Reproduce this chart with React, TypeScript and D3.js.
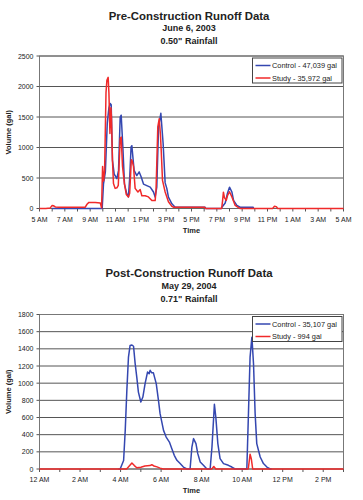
import React from "react";
import * as d3 from "d3";

// ---------- DATA ----------
// Pre-construction (hours after 5 AM, June 6 2003)
const preTickLabels = ["5 AM", "7 AM", "9 AM", "11 AM", "1 PM", "3 PM", "5 PM", "7 PM", "9 PM", "11 PM", "1 AM", "3 AM", "5 AM"];
const preYTicks = [0, 500, 1000, 1500, 2000, 2500];
const preControl: [number, number][] = [
  [1.0, 0], [4.95, 0], [5.05, 400], [5.2, 600], [5.35, 1400], [5.48, 1650], [5.58, 1720], [5.66, 1700],
  [5.76, 790], [5.9, 560], [5.97, 540], [6.11, 490], [6.24, 625], [6.37, 1500], [6.45, 1530], [6.58, 1010],
  [6.71, 400], [6.89, 240], [7.02, 190], [7.12, 500], [7.23, 1010], [7.29, 1030], [7.47, 625], [7.68, 540],
  [7.87, 600], [8.03, 515], [8.21, 400], [8.47, 375], [8.74, 350], [9.0, 270], [9.13, 190], [9.26, 350],
  [9.4, 1340], [9.58, 1560], [9.76, 1065], [9.92, 420], [10.05, 330], [10.18, 186], [10.32, 130],
  [10.45, 77], [10.71, 21], [13.08, 20], [13.12, 0], [14.35, 0], [14.4, 21], [14.66, 90], [14.84, 250],
  [15.0, 350], [15.19, 270], [15.32, 132], [15.58, 50], [15.84, 21], [16.87, 20], [16.9, 0],
];
const preStudy: [number, number][] = [
  [0, 0], [0.5, 0], [0.85, 10], [1.0, 50], [1.1, 45], [1.25, 25], [1.5, 20], [3.6, 20], [3.75, 70],
  [3.9, 100], [4.4, 100], [4.8, 90], [4.9, 10], [4.98, 690], [5.06, 450], [5.14, 620], [5.25, 1900],
  [5.32, 2100], [5.42, 2150], [5.48, 1900], [5.56, 1230], [5.64, 1650], [5.68, 1500], [5.76, 790],
  [5.84, 410], [5.97, 330], [6.11, 340], [6.22, 380], [6.37, 1150], [6.45, 1170], [6.55, 700], [6.71, 400],
  [6.85, 230], [7.02, 190], [7.12, 250], [7.25, 800], [7.32, 780], [7.42, 690], [7.55, 330], [7.77, 270],
  [7.95, 310], [8.08, 210], [8.34, 210], [8.6, 190], [8.87, 130], [9.13, 130], [9.2, 300], [9.27, 820],
  [9.34, 1340], [9.45, 1470], [9.55, 1200], [9.61, 950], [9.71, 460], [9.92, 270], [10.18, 110],
  [10.45, 35], [10.6, 20], [13.05, 20], [13.1, 0], [14.38, 0], [14.45, 120], [14.52, 268], [14.6, 180],
  [14.74, 132], [14.84, 210], [15.0, 275], [15.19, 190], [15.32, 120], [15.45, 50], [15.71, 15],
  [15.84, 0], [18.4, 0], [18.55, 35], [18.7, 30], [18.8, 0], [24, 0],
];

// Post-construction (hours after midnight, May 29 2004)
const postTickLabels = ["12 AM", "2 AM", "4 AM", "6 AM", "8 AM", "10 AM", "12 PM", "2 PM"];
const postYTicks = [0, 200, 400, 600, 800, 1000, 1200, 1400, 1600, 1800];
const postControl: [number, number][] = [
  [3.9, 0], [3.98, 0], [4.15, 100], [4.23, 450], [4.31, 916], [4.39, 1304], [4.47, 1440], [4.56, 1445],
  [4.64, 1430], [4.72, 1227], [4.8, 1071], [4.88, 896], [5.0, 780], [5.1, 838], [5.21, 994], [5.33, 1129],
  [5.41, 1110], [5.46, 1150], [5.54, 1120], [5.62, 1120], [5.76, 994], [5.87, 800], [5.95, 645],
  [6.12, 450], [6.25, 372], [6.41, 314], [6.53, 237], [6.65, 159], [6.78, 101], [6.94, 63], [7.02, 43],
  [7.1, 23], [7.27, 0], [7.43, 0], [7.52, 256], [7.6, 354], [7.72, 296], [7.81, 179], [7.93, 81],
  [8.09, 43], [8.26, 0], [8.42, 0], [8.51, 256], [8.63, 753], [8.7, 605], [8.8, 296], [8.91, 121],
  [9.08, 63], [9.32, 43], [9.49, 23], [9.65, 0], [10.23, 0], [10.31, 645], [10.39, 1304], [10.48, 1536],
  [10.56, 1227], [10.64, 645], [10.72, 296], [10.89, 140], [11.05, 63], [11.22, 23], [11.38, 0], [11.45, 0],
];
const postStudy: [number, number][] = [
  [0, 0], [4.3, 0], [4.45, 40], [4.56, 70], [4.68, 40], [4.8, 15], [5.0, 20], [5.2, 35], [5.45, 40],
  [5.54, 50], [5.65, 35], [5.8, 25], [5.95, 10], [6.1, 0], [8.5, 0], [8.6, 30], [8.7, 0], [10.3, 0],
  [10.39, 171], [10.45, 120], [10.52, 0], [15, 0],
];

const BLUE = "#3447b0";
const RED = "#f02a2a";
const FONT = "'Liberation Sans', Arial, sans-serif";

type ChartProps = {
  top: number;
  plotTopOff: number;
  plotBottomOff: number;
  titles: string[];
  xMax: number;
  tickLabels: string[];
  tickStep: number;
  yTicks: number[];
  control: [number, number][];
  study: [number, number][];
  controlLabel: string;
  studyLabel: string;
};

function Chart(p: ChartProps) {
  const left = 39.5;
  const right = 343.5;
  const plotTop = p.top + p.plotTopOff;
  const plotBottom = p.top + p.plotBottomOff;
  const x = d3.scaleLinear().domain([0, p.xMax]).range([left, right]);
  const y = d3.scaleLinear().domain([0, p.yTicks[p.yTicks.length - 1]]).range([plotBottom, plotTop]);
  const line = d3.line<[number, number]>().x((d) => x(d[0])).y((d) => y(d[1]));
  const hours = d3.range(0, p.xMax + 0.001, 1);
  const legX = right - 91;
  const legY = plotTop + 2;
  return (
    <g>
      <text x={189} y={p.top + 19.5} textAnchor="middle" fontFamily={FONT} fontWeight="bold" fontSize={11.4} fill="#222">{p.titles[0]}</text>
      <text x={189} y={p.top + 31} textAnchor="middle" fontFamily={FONT} fontWeight="bold" fontSize={9} fill="#222">{p.titles[1]}</text>
      <text x={189} y={p.top + 44} textAnchor="middle" fontFamily={FONT} fontWeight="bold" fontSize={9} fill="#222">{p.titles[2]}</text>
      {p.yTicks.slice(1).map((t) => (
        <line key={"g" + t} x1={left} x2={right} y1={y(t)} y2={y(t)} stroke="#555" strokeWidth={1} />
      ))}
      <rect x={left} y={plotTop} width={right - left} height={plotBottom - plotTop} fill="none" stroke="#777" strokeWidth={1} />
      <line x1={left} x2={right} y1={plotBottom} y2={plotBottom} stroke="#666" strokeWidth={1} />
      {p.yTicks.map((t) => (
        <g key={"y" + t}>
          <line x1={left - 3} x2={left} y1={y(t)} y2={y(t)} stroke="#555" />
          <text x={left - 6} y={y(t) + 2.5} textAnchor="end" fontFamily={FONT} fontSize={7} fill="#222">{t}</text>
        </g>
      ))}
      {hours.map((h) => (
        <line key={"t" + h} x1={x(h)} x2={x(h)} y1={plotBottom} y2={plotBottom + 3} stroke="#555" />
      ))}
      {p.tickLabels.map((l, i) => (
        <text key={"xl" + i} x={x(i * p.tickStep)} y={plotBottom + 13} textAnchor="middle" fontFamily={FONT} fontSize={7} fill="#222">{l}</text>
      ))}
      <text x={(left + right) / 2} y={plotBottom + 24} textAnchor="middle" fontFamily={FONT} fontWeight="bold" fontSize={7.5} fill="#222">Time</text>
      <text transform={`translate(10.5,${(plotTop + plotBottom) / 2}) rotate(-90)`} textAnchor="middle" fontFamily={FONT} fontWeight="bold" fontSize={7.5} fill="#222">Volume (gal)</text>
      <path d={line(p.control) || ""} fill="none" stroke={BLUE} strokeWidth={1.5} strokeLinejoin="round" />
      <path d={line(p.study) || ""} fill="none" stroke={RED} strokeWidth={1.5} strokeLinejoin="round" />
      <rect x={legX} y={legY} width={89.5} height={25} fill="#fff" stroke="#444" strokeWidth={1} />
      <line x1={legX + 3} x2={legX + 18} y1={legY + 7.5} y2={legY + 7.5} stroke={BLUE} strokeWidth={1.5} />
      <text x={legX + 19.5} y={legY + 10} fontFamily={FONT} fontSize={7.4} fill="#222">{p.controlLabel}</text>
      <line x1={legX + 3} x2={legX + 18} y1={legY + 20} y2={legY + 20} stroke={RED} strokeWidth={1.5} />
      <text x={legX + 19.5} y={legY + 22.5} fontFamily={FONT} fontSize={7.4} fill="#222">{p.studyLabel}</text>
    </g>
  );
}

export default function App() {
  return (
    <svg width={363} height={500} style={{ position: "absolute", left: 0, top: 0, background: "#fff" }}>
      <rect width={363} height={500} fill="#fff" />
      <Chart
        top={0}
        plotTopOff={56}
        plotBottomOff={208.5}
        titles={["Pre-Construction Runoff Data", "June 6, 2003", "0.50\" Rainfall"]}
        xMax={24}
        tickLabels={preTickLabels}
        tickStep={2}
        yTicks={preYTicks}
        control={preControl}
        study={preStudy}
        controlLabel="Control - 47,039 gal"
        studyLabel="Study - 35,972 gal"
      />
      <Chart
        top={257.5}
        plotTopOff={57}
        plotBottomOff={211.5}
        titles={["Post-Construction Runoff Data", "May 29, 2004", "0.71\" Rainfall"]}
        xMax={15}
        tickLabels={postTickLabels}
        tickStep={2}
        yTicks={postYTicks}
        control={postControl}
        study={postStudy}
        controlLabel="Control - 35,107 gal"
        studyLabel="Study - 994 gal"
      />
    </svg>
  );
}
